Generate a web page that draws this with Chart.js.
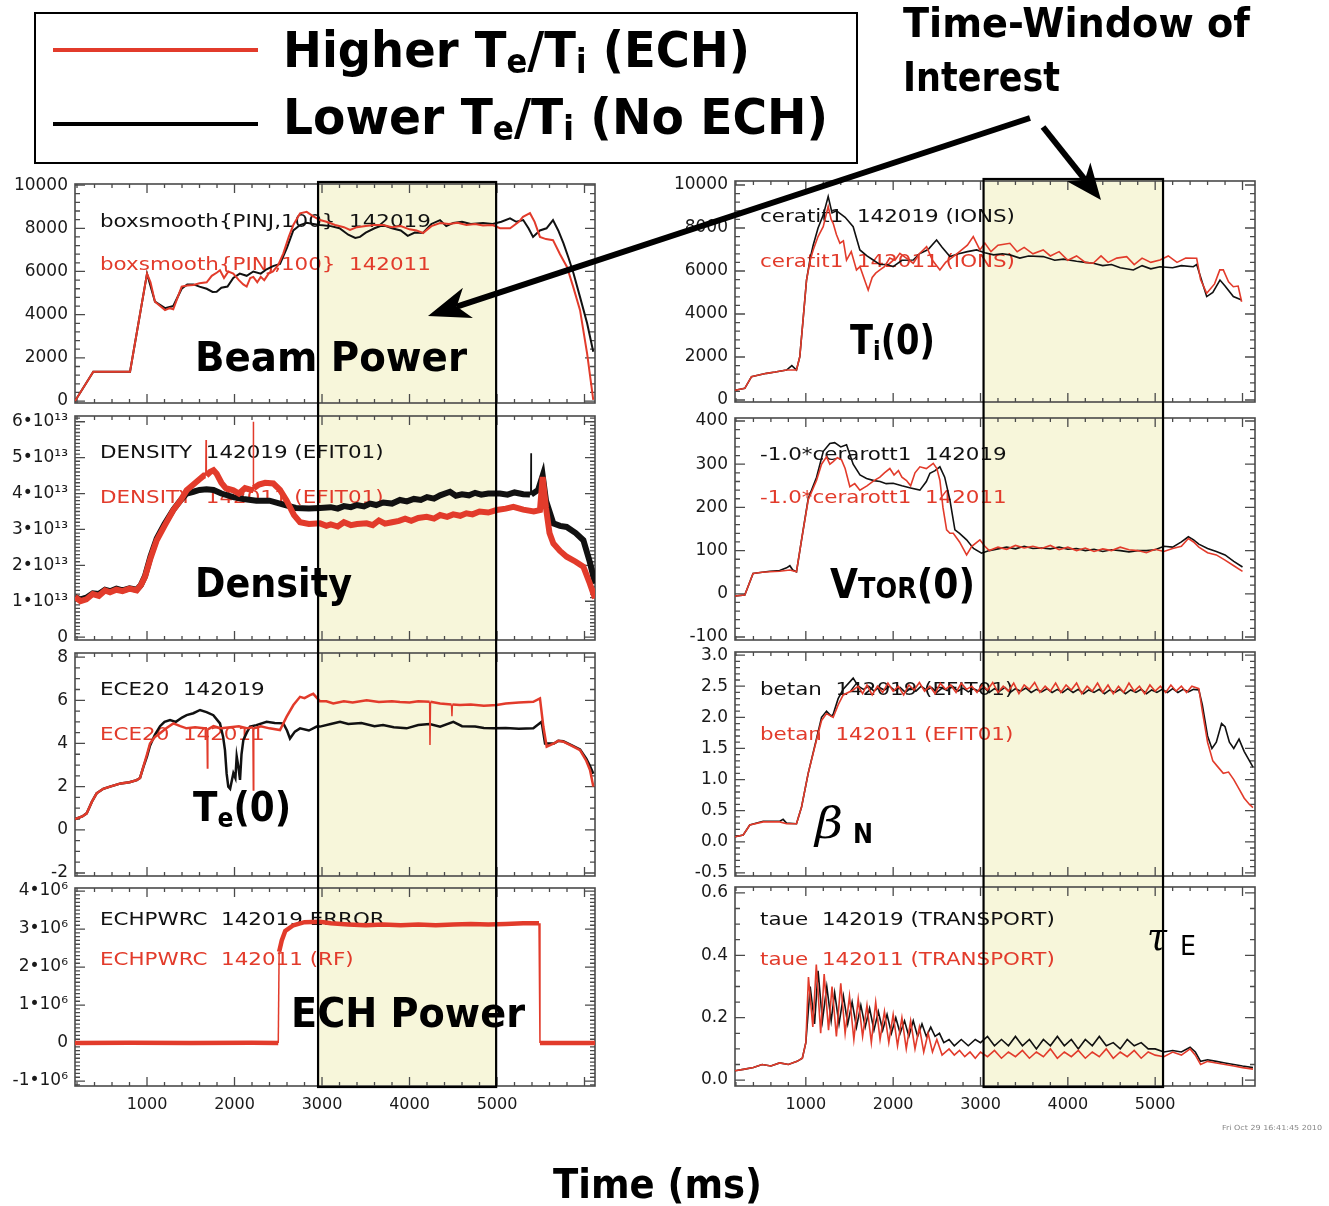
<!DOCTYPE html>
<html>
<head>
<meta charset="utf-8">
<script src="https://cdn.jsdelivr.net/npm/chart.js@4.4.0/dist/chart.umd.min.js"></script>
<style>
  body { margin: 0; width: 1329px; height: 1206px; background: #fff; position: relative; overflow: hidden; }
  canvas.panel { position: absolute; z-index: 1; }
  .band { position: absolute; z-index: 0; background: #f7f6da; }
  #overlay { position: absolute; left: 0; top: 0; z-index: 3; pointer-events: none; }
</style>
</head>
<body>
<div id="bandL" class="band"></div>
<div id="bandR" class="band"></div>
<canvas id="pL1" class="panel"></canvas>
<canvas id="pL2" class="panel"></canvas>
<canvas id="pL3" class="panel"></canvas>
<canvas id="pL4" class="panel"></canvas>
<canvas id="pR1" class="panel"></canvas>
<canvas id="pR2" class="panel"></canvas>
<canvas id="pR3" class="panel"></canvas>
<canvas id="pR4" class="panel"></canvas>
<canvas id="overlay" width="1329" height="1206"></canvas>
<script>
// === DATA === //
// time (ms), value ; red = shot 142011 (ECH), black = shot 142019 (no ECH)

const timeTicks = [1000, 2000, 3000, 4000, 5000]
const windowL = [2955, 4990]
const windowR = [3035, 5090]

// beam power (kW)
const beamRed = [[177,0],[386,1360],[806,1360],[1000,5900],[1040,5500],[1091,4600],[1150,4400],[1206,4210],[1260,4300],[1300,4250],[1350,4800],[1396,5300],[1460,5350],[1530,5370],[1600,5450],[1682,5500],[1740,5800],[1800,5950],[1834,6060],[1880,5700],[1930,6000],[1986,5900],[2050,5600],[2100,5400],[2139,5300],[2180,5700],[2215,5750],[2260,5500],[2300,5750],[2340,5600],[2390,5900],[2440,6000],[2500,6300],[2558,6840],[2620,7600],[2672,8150],[2749,8690],[2825,8760],[2900,8550],[2977,8380],[3050,8300],[3150,8150],[3250,8050],[3320,7920],[3400,8050],[3500,8100],[3600,8150],[3697,8150],[3800,8050],[3900,8100],[4000,7950],[4080,7900],[4154,7780],[4250,8100],[4349,8240],[4450,8200],[4550,8250],[4650,8150],[4750,8200],[4840,8130],[4950,8150],[5034,8000],[5150,8000],[5250,8300],[5297,8530],[5377,8700],[5430,8300],[5491,7600],[5560,7500],[5640,7450],[5720,6800],[5800,6210],[5870,5300],[5949,4210],[6030,2200],[6100,50]]
const beamBlack = [[177,0],[386,1360],[806,1360],[1000,5900],[1091,4600],[1206,4300],[1300,4400],[1396,5200],[1460,5400],[1530,5400],[1600,5300],[1682,5200],[1750,5050],[1796,5060],[1850,5250],[1920,5300],[1986,5700],[2060,5900],[2139,5800],[2215,6000],[2300,5900],[2367,6100],[2440,6250],[2520,6350],[2600,7100],[2672,7900],[2749,8150],[2825,8250],[2900,8200],[2977,8150],[3100,8100],[3200,8000],[3300,7700],[3380,7550],[3434,7600],[3500,7800],[3600,8000],[3697,8150],[3800,8000],[3900,7900],[3980,7650],[4060,7800],[4154,7780],[4250,8200],[4349,8380],[4420,8100],[4500,8250],[4600,8300],[4700,8200],[4840,8240],[4950,8200],[5050,8300],[5149,8460],[5220,8300],[5300,8380],[5360,8000],[5412,7600],[5490,7900],[5566,8000],[5640,8380],[5700,7900],[5760,7300],[5820,6600],[5874,5920],[5950,4800],[6030,3600],[6100,2280]]

// line-averaged density (10^13 cm^-3)
const densRed = [[177,1.12],[240,1.0],[306,1.05],[380,1.2],[450,1.15],[520,1.3],[577,1.25],[650,1.32],[720,1.28],[800,1.35],[882,1.3],[930,1.45],[977,1.68],[1040,2.2],[1111,2.7],[1200,3.1],[1301,3.54],[1380,3.8],[1453,4.09],[1530,4.25],[1600,4.4],[1650,4.5],[1672,4.5],[1675,5.49],[1678,4.5],[1720,4.6],[1760,4.65],[1796,4.55],[1850,4.3],[1900,4.15],[1987,4.09],[2050,4.0],[2120,4.15],[2190,4.1],[2212,4.1],[2215,6.0],[2218,4.15],[2280,4.25],[2350,4.3],[2444,4.28],[2520,4.1],[2596,3.8],[2680,3.4],[2749,3.2],[2850,3.15],[2977,3.17],[3050,3.1],[3100,3.14],[3180,3.08],[3250,3.2],[3330,3.12],[3400,3.15],[3510,3.17],[3580,3.12],[3650,3.25],[3720,3.16],[3800,3.2],[3880,3.24],[3950,3.3],[4020,3.24],[4100,3.32],[4196,3.35],[4280,3.3],[4350,3.4],[4430,3.35],[4500,3.42],[4580,3.38],[4650,3.45],[4720,3.42],[4800,3.5],[4900,3.47],[4996,3.54],[5100,3.58],[5187,3.63],[5300,3.55],[5420,3.5],[5491,3.54],[5522,4.46],[5560,3.6],[5600,2.9],[5644,2.61],[5720,2.4],[5796,2.24],[5900,2.1],[5987,1.96],[6060,1.5],[6120,1.08]]
const densBlack = [[177,1.12],[240,1.05],[306,1.1],[380,1.22],[450,1.2],[520,1.32],[577,1.28],[650,1.35],[720,1.3],[800,1.36],[882,1.32],[930,1.45],[977,1.7],[1040,2.25],[1111,2.75],[1200,3.15],[1301,3.55],[1380,3.8],[1453,4.0],[1530,4.05],[1600,4.1],[1680,4.12],[1760,4.1],[1850,4.0],[1987,3.9],[2100,3.85],[2250,3.8],[2400,3.8],[2550,3.7],[2700,3.6],[2850,3.58],[2977,3.6],[3100,3.62],[3180,3.58],[3250,3.65],[3330,3.62],[3400,3.68],[3480,3.64],[3550,3.72],[3620,3.68],[3700,3.75],[3800,3.72],[3891,3.82],[3970,3.78],[4050,3.85],[4130,3.82],[4200,3.9],[4280,3.86],[4350,3.95],[4463,4.05],[4530,3.94],[4600,3.98],[4680,3.95],[4750,4.02],[4820,3.97],[4900,4.0],[5034,4.0],[5120,3.97],[5200,4.03],[5300,3.98],[5377,3.97],[5386,3.97],[5389,5.12],[5392,3.97],[5470,4.1],[5522,4.5],[5560,3.8],[5644,3.17],[5720,3.1],[5796,3.07],[5900,2.9],[5987,2.7],[6060,2.1],[6120,1.5]]

// central electron temperature ECE20 (keV)
const teRed = [[177,0.5],[260,0.62],[310,0.76],[370,1.3],[424,1.69],[500,1.9],[577,2.0],[700,2.15],[800,2.2],[882,2.3],[920,2.4],[958,2.92],[1000,3.5],[1034,4.0],[1090,4.3],[1149,4.47],[1220,4.7],[1301,4.93],[1380,4.8],[1453,4.7],[1550,4.75],[1650,4.7],[1685,4.7],[1690,2.86],[1695,4.65],[1760,4.8],[1850,4.7],[1950,4.75],[2050,4.8],[2150,4.7],[2210,4.75],[2215,1.84],[2220,4.7],[2300,4.8],[2400,4.7],[2520,4.62],[2596,5.24],[2673,5.78],[2749,6.16],[2800,6.1],[2863,6.24],[2900,6.3],[2977,5.95],[3050,5.95],[3129,5.85],[3250,5.95],[3350,5.9],[3510,6.0],[3650,5.92],[3800,5.95],[3891,5.92],[4000,5.9],[4100,5.95],[4230,5.93],[4234,3.93],[4240,5.93],[4350,5.85],[4480,5.8],[4485,5.26],[4490,5.8],[4577,5.78],[4700,5.8],[4850,5.75],[4996,5.78],[5100,5.85],[5250,5.9],[5415,5.93],[5491,6.09],[5530,4.77],[5568,3.85],[5650,4.0],[5700,4.12],[5758,4.08],[5850,3.9],[5949,3.69],[6020,3.2],[6063,2.77],[6101,2.0]]
const teBlack = [[177,0.5],[260,0.62],[310,0.76],[370,1.3],[424,1.69],[500,1.9],[577,2.0],[700,2.15],[800,2.2],[882,2.3],[920,2.4],[958,2.9],[1000,3.4],[1034,3.9],[1090,4.4],[1149,4.8],[1200,5.0],[1263,5.08],[1330,5.0],[1400,5.2],[1453,5.31],[1530,5.4],[1606,5.55],[1680,5.45],[1758,5.31],[1834,4.93],[1870,4.3],[1891,3.69],[1910,2.6],[1929,2.0],[1950,1.9],[1987,2.62],[2010,2.4],[2025,3.4],[2045,2.9],[2063,2.31],[2080,3.5],[2101,4.16],[2140,4.5],[2177,4.78],[2250,4.85],[2367,5.0],[2460,4.95],[2558,4.93],[2600,4.6],[2634,4.23],[2690,4.55],[2749,4.7],[2850,4.6],[2939,4.78],[2977,4.78],[3100,4.9],[3206,5.0],[3300,4.9],[3450,4.95],[3600,4.8],[3697,4.85],[3820,4.75],[3967,4.7],[4100,4.85],[4230,4.9],[4350,4.78],[4501,5.0],[4600,4.8],[4750,4.78],[4850,4.72],[4958,4.7],[5100,4.72],[5250,4.68],[5415,4.7],[5510,5.0],[5549,4.0],[5650,4.0],[5700,4.12],[5758,4.1],[5850,3.92],[5949,3.72],[6020,3.3],[6063,2.95],[6101,2.6]]

// ECH power (MW); 142019 has no data (ERROR)
const echRed = [[177,0],[800,0.01],[1500,0],[2200,0.01],[2500,0],[2510,2.4],[2540,2.7],[2580,2.95],[2673,3.1],[2800,3.18],[2977,3.19],[3100,3.15],[3300,3.12],[3500,3.1],[3700,3.12],[3900,3.1],[4100,3.12],[4300,3.1],[4500,3.12],[4700,3.13],[4900,3.12],[5100,3.13],[5300,3.15],[5480,3.15],[5491,0],[5700,0],[6120,0]]
const echBlack = []

// central ion temperature (eV)
const tiRed = [[189,450],[301,540],[378,1085],[450,1150],[550,1240],[650,1300],[779,1395],[893,1395],[931,2015],[970,3800],[1008,5580],[1050,6500],[1084,6980],[1140,7600],[1199,8060],[1256,9000],[1290,8400],[1313,8220],[1350,7700],[1390,7290],[1430,7400],[1466,6510],[1520,6900],[1580,6050],[1620,6200],[1680,5500],[1714,5120],[1760,5700],[1800,5900],[1848,6050],[1900,6200],[1960,6600],[2020,6500],[2077,6820],[2150,6600],[2230,6360],[2300,6800],[2383,7130],[2450,6500],[2535,6050],[2600,6400],[2688,6670],[2760,6900],[2850,7200],[2917,7600],[2993,6980],[3050,7300],[3120,6900],[3200,7200],[3337,7290],[3420,6900],[3500,7100],[3600,6800],[3718,6980],[3800,6700],[3900,6900],[4000,6500],[4100,6700],[4200,6400],[4291,6360],[4380,6700],[4460,6400],[4560,6600],[4674,6670],[4760,6300],[4850,6600],[4950,6400],[5055,6510],[5150,6700],[5250,6400],[5350,6600],[5475,6590],[5520,5600],[5590,4960],[5680,5400],[5740,6050],[5780,6050],[5840,5500],[5895,5270],[5950,5300],[5990,4570]]
const tiBlack = [[189,450],[301,540],[378,1085],[450,1150],[550,1240],[650,1300],[779,1395],[840,1600],[893,1395],[931,2015],[970,3800],[1008,5580],[1050,6600],[1084,7200],[1140,8000],[1199,8600],[1256,9460],[1300,8700],[1350,8800],[1390,8680],[1450,8500],[1542,8060],[1619,6980],[1700,6700],[1771,6510],[1850,6300],[1930,6300],[2000,6200],[2100,6500],[2230,6510],[2300,6800],[2400,7000],[2497,7440],[2560,7100],[2650,6670],[2750,6800],[2850,6900],[2955,6980],[3050,6850],[3150,6750],[3250,6800],[3337,6750],[3450,6600],[3550,6700],[3718,6670],[3850,6500],[3950,6550],[4100,6450],[4200,6400],[4291,6360],[4400,6250],[4500,6300],[4600,6150],[4750,6050],[4850,6250],[4950,6100],[5055,6200],[5200,6150],[5300,6250],[5437,6200],[5475,6300],[5590,4810],[5660,5000],[5742,5580],[5800,5300],[5895,4810],[5990,4650]]

// central toroidal rotation (km/s)
const vtorRed = [[189,-5],[301,-3],[396,47],[500,50],[588,51],[700,52],[817,55],[893,51],[951,125],[1027,217],[1123,263],[1180,300],[1237,317],[1275,300],[1313,306],[1360,315],[1409,310],[1450,290],[1504,248],[1560,255],[1619,240],[1700,250],[1780,262],[1848,270],[1900,280],[1962,290],[2010,275],[2060,285],[2100,270],[2153,262],[2200,250],[2250,280],[2306,294],[2380,290],[2459,302],[2500,290],[2535,263],[2570,200],[2612,148],[2650,140],[2688,140],[2760,120],[2841,90],[2900,110],[2993,125],[3050,110],[3100,100],[3200,108],[3300,103],[3400,112],[3500,106],[3600,110],[3700,105],[3800,112],[3900,102],[4000,108],[4100,100],[4200,106],[4300,98],[4400,104],[4500,100],[4600,108],[4700,102],[4800,100],[4900,95],[5000,103],[5100,98],[5200,105],[5300,110],[5380,128],[5440,120],[5500,108],[5600,95],[5700,90],[5800,78],[5900,65],[6000,52]]
const vtorBlack = [[189,-5],[301,-3],[396,47],[500,50],[588,52],[700,54],[780,60],[817,65],[850,55],[893,51],[951,125],[1027,220],[1123,270],[1200,330],[1275,348],[1330,350],[1400,340],[1466,345],[1542,300],[1620,275],[1695,267],[1780,262],[1850,260],[1920,255],[2000,256],[2100,250],[2200,245],[2306,240],[2380,260],[2421,279],[2480,285],[2535,294],[2590,270],[2650,217],[2707,148],[2760,140],[2841,125],[2920,105],[3012,94],[3100,100],[3200,104],[3300,108],[3400,104],[3500,110],[3600,105],[3700,106],[3800,104],[3900,108],[4000,103],[4100,105],[4200,100],[4300,103],[4400,98],[4500,102],[4600,100],[4700,97],[4800,100],[4900,100],[5000,102],[5100,110],[5200,108],[5300,120],[5380,132],[5440,125],[5500,115],[5600,105],[5700,98],[5800,90],[5900,75],[6000,62]]

// normalized beta
const betaRed = [[189,0.08],[283,0.11],[358,0.27],[511,0.32],[702,0.32],[779,0.29],[893,0.29],[951,0.56],[1027,1.1],[1123,1.64],[1180,1.95],[1237,2.06],[1313,2.0],[1370,2.2],[1428,2.36],[1542,2.44],[1600,2.5],[1650,2.38],[1700,2.52],[1760,2.36],[1820,2.5],[1880,2.4],[1940,2.55],[2000,2.42],[2060,2.5],[2120,2.36],[2180,2.52],[2240,2.44],[2300,2.56],[2360,2.42],[2420,2.5],[2480,2.38],[2540,2.55],[2600,2.45],[2660,2.52],[2720,2.4],[2780,2.55],[2840,2.45],[2900,2.5],[2960,2.4],[3020,2.52],[3080,2.44],[3140,2.56],[3200,2.4],[3260,2.5],[3320,2.42],[3380,2.55],[3440,2.38],[3500,2.52],[3560,2.45],[3620,2.56],[3680,2.4],[3740,2.5],[3800,2.42],[3860,2.55],[3920,2.4],[3980,2.52],[4040,2.44],[4100,2.55],[4160,2.38],[4220,2.5],[4280,2.42],[4340,2.55],[4400,2.4],[4460,2.52],[4520,2.38],[4580,2.5],[4640,2.4],[4700,2.55],[4760,2.42],[4820,2.5],[4880,2.38],[4940,2.52],[5000,2.42],[5060,2.5],[5120,2.4],[5180,2.52],[5240,2.42],[5300,2.5],[5360,2.4],[5420,2.5],[5500,2.46],[5540,2.1],[5600,1.6],[5660,1.3],[5720,1.2],[5780,1.1],[5840,1.12],[5900,1.0],[5960,0.85],[6020,0.7],[6080,0.6],[6120,0.55]]
const betaBlack = [[189,0.08],[283,0.11],[358,0.27],[511,0.33],[702,0.33],[740,0.36],[779,0.3],[893,0.29],[951,0.56],[1027,1.1],[1123,1.66],[1180,2.0],[1237,2.1],[1290,2.02],[1313,2.05],[1370,2.3],[1428,2.45],[1542,2.63],[1600,2.5],[1660,2.45],[1720,2.5],[1780,2.42],[1840,2.48],[1900,2.44],[1960,2.5],[2020,2.43],[2080,2.48],[2140,2.4],[2200,2.47],[2260,2.42],[2320,2.5],[2380,2.44],[2440,2.48],[2500,2.4],[2560,2.47],[2620,2.43],[2680,2.5],[2740,2.42],[2800,2.47],[2860,2.41],[2920,2.46],[2980,2.42],[3040,2.48],[3100,2.4],[3160,2.46],[3220,2.42],[3280,2.48],[3340,2.4],[3400,2.46],[3460,2.42],[3520,2.47],[3580,2.4],[3640,2.45],[3700,2.41],[3760,2.46],[3820,2.4],[3880,2.45],[3940,2.4],[4000,2.46],[4060,2.4],[4120,2.45],[4180,2.38],[4240,2.44],[4300,2.4],[4360,2.45],[4420,2.38],[4480,2.44],[4540,2.4],[4600,2.45],[4660,2.38],[4720,2.44],[4780,2.4],[4840,2.45],[4900,2.38],[4960,2.44],[5020,2.4],[5080,2.45],[5140,2.4],[5200,2.46],[5260,2.4],[5320,2.45],[5380,2.41],[5440,2.45],[5500,2.44],[5540,2.2],[5600,1.7],[5650,1.5],[5700,1.6],[5760,1.9],[5800,1.85],[5850,1.6],[5900,1.5],[5960,1.65],[6020,1.45],[6080,1.3],[6120,1.2]]

// energy confinement time (s)
const tauRed = [[189,0.03],[300,0.035],[400,0.04],[500,0.05],[600,0.045],[700,0.055],[800,0.05],[900,0.06],[960,0.07],[1000,0.12],[1030,0.33],[1080,0.17],[1120,0.37],[1170,0.15],[1210,0.34],[1260,0.16],[1300,0.3],[1350,0.14],[1400,0.31],[1450,0.15],[1500,0.27],[1550,0.13],[1600,0.26],[1650,0.14],[1700,0.24],[1750,0.12],[1800,0.25],[1850,0.13],[1900,0.22],[1950,0.12],[2000,0.21],[2050,0.11],[2100,0.2],[2150,0.1],[2200,0.19],[2250,0.1],[2300,0.17],[2350,0.09],[2400,0.15],[2450,0.09],[2500,0.13],[2560,0.08],[2640,0.1],[2700,0.08],[2760,0.095],[2820,0.075],[2880,0.09],[2940,0.07],[3000,0.09],[3080,0.075],[3160,0.095],[3240,0.07],[3320,0.09],[3400,0.075],[3480,0.095],[3560,0.07],[3640,0.09],[3720,0.075],[3800,0.1],[3880,0.07],[3960,0.09],[4040,0.075],[4120,0.095],[4200,0.07],[4280,0.09],[4360,0.075],[4440,0.1],[4520,0.07],[4600,0.09],[4680,0.075],[4760,0.095],[4840,0.07],[4920,0.09],[5000,0.08],[5100,0.075],[5200,0.09],[5300,0.08],[5400,0.1],[5460,0.08],[5520,0.05],[5600,0.06],[5700,0.055],[5800,0.05],[5900,0.045],[6000,0.04],[6120,0.035]]
const tauBlack = [[189,0.03],[300,0.035],[400,0.04],[500,0.05],[600,0.045],[700,0.055],[800,0.05],[900,0.06],[960,0.07],[1000,0.12],[1050,0.3],[1100,0.18],[1140,0.35],[1190,0.19],[1240,0.3],[1290,0.19],[1330,0.28],[1380,0.18],[1430,0.27],[1480,0.18],[1530,0.25],[1580,0.17],[1630,0.24],[1680,0.17],[1730,0.23],[1780,0.16],[1830,0.22],[1880,0.16],[1930,0.21],[1980,0.15],[2030,0.2],[2080,0.15],[2130,0.19],[2180,0.14],[2230,0.19],[2280,0.14],[2330,0.18],[2380,0.14],[2430,0.17],[2480,0.14],[2530,0.15],[2580,0.12],[2640,0.13],[2700,0.11],[2780,0.13],[2860,0.11],[2940,0.13],[3000,0.12],[3080,0.14],[3160,0.11],[3240,0.13],[3320,0.11],[3400,0.14],[3480,0.11],[3560,0.13],[3640,0.1],[3720,0.13],[3800,0.11],[3880,0.14],[3960,0.11],[4040,0.13],[4120,0.1],[4200,0.13],[4280,0.11],[4360,0.14],[4440,0.11],[4520,0.12],[4600,0.1],[4680,0.13],[4760,0.11],[4840,0.12],[4920,0.1],[5000,0.1],[5100,0.09],[5200,0.095],[5300,0.09],[5400,0.105],[5460,0.09],[5520,0.06],[5600,0.065],[5700,0.06],[5800,0.055],[5900,0.05],[6000,0.045],[6120,0.04]]

// y tick values
const ticksPower = [0, 2000, 4000, 6000, 8000, 10000]
const ticksDens = [0, 1, 2, 3, 4, 5, 6]
const ticksTe = [-2, 0, 2, 4, 6, 8]
const ticksEch = [-1, 0, 1, 2, 3, 4]
const ticksVtor = [-100, 0, 100, 200, 300, 400]
const ticksBeta = [-0.5, 0, 0.5, 1, 1.5, 2, 2.5, 3]
const ticksTau = [0, 0.2, 0.4, 0.6]

// series labels [black, red]
const beamNames = ['boxsmooth{PINJ,100}  142019', 'boxsmooth{PINJ,100}  142011']
const densNames = ['DENSITY  142019 (EFIT01)', 'DENSITY  142011 (EFIT01)']
const teNames = ['ECE20  142019', 'ECE20  142011']
const echNames = ['ECHPWRC  142019 ERROR', 'ECHPWRC  142011 (RF)']
const tiNames = ['ceratit1  142019 (IONS)', 'ceratit1  142011 (IONS)']
const vtorNames = ['-1.0*cerarott1  142019', '-1.0*cerarott1  142011']
const betaNames = ['betan  142019 (EFIT01)', 'betan  142011 (EFIT01)']
const tauNames = ['taue  142019 (TRANSPORT)', 'taue  142011 (TRANSPORT)']

// === STYLE / LAYOUT === //

const RED = '#e23b2b'
const INK = '#111111'
const FRAME = '#4a4a4a'
const Y_FONT = {family: 'DejaVu Sans', size: 17}
const X_FONT = {family: 'DejaVu Sans', size: 16}

const SUP = '⁰¹²³⁴⁵⁶⁷⁸⁹'
const sup = n => String(n).split('').map(d => SUP[+d]).join('')
const plain = v => String(v)
const fixed1 = v => v.toFixed(1)
const sci = e => v => v === 0 ? '0' : Math.round(v) + '•10' + sup(e)

const columns = {
  L: {left: 0, tMin: 177, tMax: 6120},
  R: {left: 660, tMin: 189, tMax: 6143}
}

const panels = [
  {id: 'pL1', col: 'L', top: 184, bottom: 403, yMin: -90, yMax: 10050, ticks: ticksPower, major: 2000, minor: 400, fmt: plain, red: beamRed, black: beamBlack, w: [2, 2], names: beamNames, dy: [38, 81]},
  {id: 'pL2', col: 'L', top: 416, bottom: 640, yMin: -0.08, yMax: 6.16, ticks: ticksDens, major: 1, minor: 0.1, fmt: sci(13), red: densRed, black: densBlack, w: [6, 6], names: densNames, dy: [37, 82]},
  {id: 'pL3', col: 'L', top: 653, bottom: 876, yMin: -2.14, yMax: 8.19, ticks: ticksTe, major: 2, minor: 0.5, fmt: plain, red: teRed, black: teBlack, w: [2.5, 2.5], names: teNames, dy: [37, 82]},
  {id: 'pL4', col: 'L', top: 888, bottom: 1086, yMin: -1.13, yMax: 4.08, ticks: ticksEch, major: 1, minor: 0.1, fmt: sci(6), red: echRed, black: echBlack, w: [2, 4.5], names: echNames, dy: [32, 72], xLabels: true},
  {id: 'pR1', col: 'R', top: 181, bottom: 402, yMin: -93, yMax: 10186, ticks: ticksPower, major: 2000, minor: 400, fmt: plain, red: tiRed, black: tiBlack, w: [1.6, 1.6], names: tiNames, dy: [36, 81]},
  {id: 'pR2', col: 'R', top: 418, bottom: 640, yMin: -107, yMax: 407, ticks: ticksVtor, major: 100, minor: 20, fmt: plain, red: vtorRed, black: vtorBlack, w: [1.6, 1.6], names: vtorNames, dy: [37, 80]},
  {id: 'pR3', col: 'R', top: 652, bottom: 876, yMin: -0.55, yMax: 3.05, ticks: ticksBeta, major: 0.5, minor: 0.1, fmt: fixed1, red: betaRed, black: betaBlack, w: [1.6, 1.6], names: betaNames, dy: [38, 83]},
  {id: 'pR4', col: 'R', top: 887, bottom: 1086, yMin: -0.019, yMax: 0.619, ticks: ticksTau, major: 0.2, minor: 0.05, fmt: fixed1, red: tauRed, black: tauBlack, w: [1.6, 1.6], names: tauNames, dy: [33, 73], xLabels: true}
]

// === IDL-STYLE FRAME, INWARD TICKS AND SERIES LABELS === //

const idlFrame = {
  id: 'idlFrame',
  beforeDatasetsDraw(chart, args, opts) {
    const {ctx, chartArea: a, scales: {x, y}} = chart
    ctx.save()
    // series labels, drawn under the traces
    ctx.font = '18px "DejaVu Sans"'
    ctx.textBaseline = 'middle'
    opts.names.forEach((name, i) => {
      ctx.save()
      ctx.translate(a.left + 25, a.top + opts.dy[i])
      ctx.scale(1.19, 1)
      ctx.fillStyle = i === 0 ? INK : RED
      ctx.fillText(name, 0, 0)
      ctx.restore()
    })
    ctx.strokeStyle = FRAME
    ctx.lineWidth = 1.6
    ctx.strokeRect(a.left, a.top, a.right - a.left, a.bottom - a.top)
    ctx.lineWidth = 1.3
    ctx.beginPath()
    for (let n = Math.ceil(x.min / 200); n * 200 <= x.max; n++) {
      const px = x.getPixelForValue(n * 200), len = n % 5 === 0 ? 9 : 4
      ctx.moveTo(px, a.bottom); ctx.lineTo(px, a.bottom - len)
      ctx.moveTo(px, a.top); ctx.lineTo(px, a.top + len)
    }
    const per = Math.round(opts.major / opts.minor)
    for (let n = Math.ceil(y.min / opts.minor - 1e-9); n * opts.minor <= y.max + 1e-9; n++) {
      const py = y.getPixelForValue(n * opts.minor), len = n % per === 0 ? 10 : 5
      ctx.moveTo(a.left, py); ctx.lineTo(a.left + len, py)
      ctx.moveTo(a.right, py); ctx.lineTo(a.right - len, py)
    }
    ctx.stroke()
    ctx.restore()
  }
}

const toXY = s => s.map(([x, y]) => ({x, y}))
// very short segments (spikes, switch-on / switch-off edges) are drawn thin
const thinEdges = {borderWidth: c => (c.p1.parsed.x - c.p0.parsed.x) < 15 ? 1.5 : undefined}
const charts = {}

panels.forEach(p => {
  const col = columns[p.col]
  const padTop = 20, padBottom = p.xLabels ? 6 : 20, xH = p.xLabels ? 34 : 0
  const cv = document.getElementById(p.id)
  cv.width = 605
  cv.height = (p.bottom - p.top) + padTop + padBottom + xH
  cv.style.left = col.left + 'px'
  cv.style.top = (p.top - padTop) + 'px'
  charts[p.id] = new Chart(cv, {
    type: 'line',
    data: {
      datasets: [
        {data: toXY(p.red), borderColor: RED, borderWidth: p.w[1], pointRadius: 0, tension: 0, segment: thinEdges},
        {data: toXY(p.black), borderColor: INK, borderWidth: p.w[0], pointRadius: 0, tension: 0, segment: thinEdges}
      ]
    },
    options: {
      responsive: false,
      animation: false,
      devicePixelRatio: 1,
      layout: {padding: {left: 0, right: 10, top: padTop, bottom: padBottom}},
      plugins: {legend: {display: false}, tooltip: {enabled: false},
        idlFrame: {names: p.names, dy: p.dy, major: p.major, minor: p.minor}},
      scales: {
        x: {
          type: 'linear', min: col.tMin, max: col.tMax,
          grid: {display: false, drawTicks: false}, border: {display: false},
          ticks: {display: !!p.xLabels, font: X_FONT, color: '#1a1a1a', padding: 9, maxRotation: 0, autoSkip: false, callback: v => String(v)},
          afterBuildTicks: s => { s.ticks = timeTicks.map(v => ({value: v})) },
          afterFit: s => { s.height = xH }
        },
        y: {
          type: 'linear', min: p.yMin, max: p.yMax,
          grid: {display: false, drawTicks: false}, border: {display: false},
          ticks: {font: Y_FONT, color: '#1a1a1a', padding: 7, autoSkip: false, callback: v => p.fmt(v)},
          afterBuildTicks: s => { s.ticks = p.ticks.map(v => ({value: v})) },
          afterFit: s => { s.width = 75 }
        }
      }
    },
    plugins: [idlFrame]
  })
})

// === TIME-WINDOW BOX, ARROWS, ANNOTATIONS === //

const g = document.getElementById('overlay').getContext('2d')

function windowBox(ids, win, bandId) {
  const c0 = charts[ids[0]], c3 = charts[ids[3]]
  const left = parseFloat(c0.canvas.style.left)
  const x0 = left + c0.scales.x.getPixelForValue(win[0])
  const x1 = left + c0.scales.x.getPixelForValue(win[1])
  const y0 = parseFloat(c0.canvas.style.top) + c0.chartArea.top - 2
  const y1 = parseFloat(c3.canvas.style.top) + c3.chartArea.bottom + 1
  const band = document.getElementById(bandId)
  Object.assign(band.style, {left: x0 + 'px', top: y0 + 'px', width: (x1 - x0) + 'px', height: (y1 - y0) + 'px'})
  g.strokeStyle = '#000'
  g.lineWidth = 2.2
  g.strokeRect(x0, y0, x1 - x0, y1 - y0)
}
windowBox(['pL1', 'pL2', 'pL3', 'pL4'], windowL, 'bandL')
windowBox(['pR1', 'pR2', 'pR3', 'pR4'], windowR, 'bandR')

function arrow(x0, y0, x1, y1, head, half, lw) {
  const a = Math.atan2(y1 - y0, x1 - x0), c = Math.cos(a), s = Math.sin(a)
  const bx = x1 - head * c, by = y1 - head * s
  const nx = x1 - head * 0.72 * c, ny = y1 - head * 0.72 * s
  g.strokeStyle = '#000'; g.fillStyle = '#000'
  g.lineWidth = lw
  g.beginPath(); g.moveTo(x0, y0); g.lineTo(nx, ny); g.stroke()
  g.beginPath()
  g.moveTo(x1, y1)
  g.lineTo(bx + half * s, by - half * c)
  g.lineTo(nx, ny)
  g.lineTo(bx - half * s, by + half * c)
  g.closePath(); g.fill()
}
arrow(1030, 118, 428, 316, 42, 16, 6)
arrow(1043, 127, 1101, 200, 36, 15, 6)

// legend box
g.lineWidth = 2
g.strokeStyle = '#000'
g.strokeRect(35, 13, 822, 150)
g.lineWidth = 4
g.strokeStyle = RED
g.beginPath(); g.moveTo(53, 50); g.lineTo(258, 50); g.stroke()
g.strokeStyle = '#000'
g.beginPath(); g.moveTo(53, 124); g.lineTo(258, 124); g.stroke()

function rich(parts, x, base, width, color) {
  let total = 0
  parts.forEach(p => { g.font = p[1]; p.w = g.measureText(p[0]).width; total += p.w })
  const sx = width ? width / total : 1
  g.save()
  g.fillStyle = color || '#000'
  g.textBaseline = 'alphabetic'
  g.translate(x, base); g.scale(sx, 1)
  let cx = 0
  parts.forEach(p => { g.font = p[1]; g.fillText(p[0], cx, p[2] || 0); cx += p.w })
  g.restore()
}

const BIG = 'bold 41px "DejaVu Sans"'
const SUB = 'bold 27px "DejaVu Sans"'
const LEG = 'bold 50px "DejaVu Sans"'
const LEGSUB = 'bold 33px "DejaVu Sans"'

rich([['Higher T', LEG], ['e', LEGSUB, 6], ['/T', LEG], ['i', LEGSUB, 6], [' (ECH)', LEG]], 283, 67, 467)
rich([['Lower T', LEG], ['e', LEGSUB, 6], ['/T', LEG], ['i', LEGSUB, 6], [' (No ECH)', LEG]], 283, 134, 545)
rich([['Time-Window of', 'bold 40px "DejaVu Sans"']], 903, 37, 347)
rich([['Interest', 'bold 40px "DejaVu Sans"']], 903, 91, 157)

rich([['Beam Power', BIG]], 195, 371, 272)
rich([['Density', BIG]], 195, 597, 157)
rich([['T', BIG], ['e', SUB, 6], ['(0)', BIG]], 193, 821, 98)
rich([['ECH Power', BIG]], 291, 1027, 234)
rich([['T', BIG], ['i', SUB, 6], ['(0)', BIG]], 850, 354, 85)
rich([['V', BIG], ['TOR', 'bold 29px "DejaVu Sans"'], ['(0)', BIG]], 830, 598, 145)
rich([['β', 'italic 42px "DejaVu Serif"']], 815, 838, 28)
rich([['N', 'bold 27px "DejaVu Sans"']], 853, 843, 20)
rich([['τ', 'italic 40px "DejaVu Serif"']], 1147, 950, 20)
rich([['E', '26px "DejaVu Sans"']], 1180, 955, 16)
rich([['Time (ms)', BIG]], 553, 1198, 209)
rich([['Fri Oct 29 16:41:45 2010', '7px "DejaVu Sans"']], 1222, 1130, 100, '#888')
</script>
</body>
</html>
